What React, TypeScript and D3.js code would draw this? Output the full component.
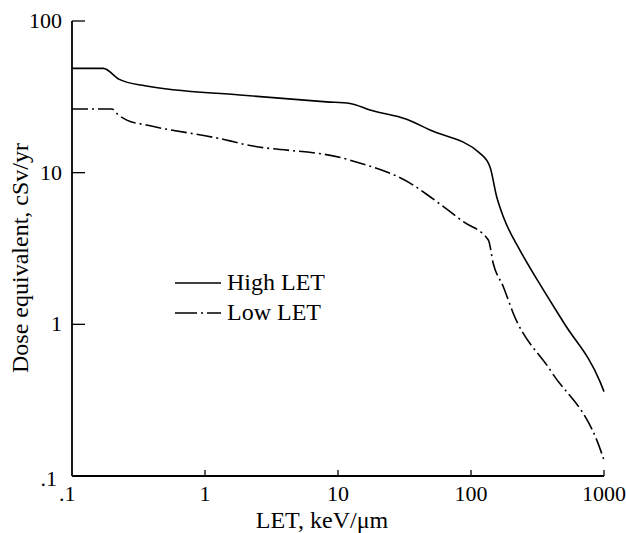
import * as d3 from "d3";

// LET (keV/um) and dose equivalent (cSv/yr)
const highLet = [0.1, 0.172, 0.227, 0.354, 1.83, 8.2, 12.3, 17.4, 32.8, 49.2, 117, 139, 156, 175, 233, 321, 500, 933, 1000];
const highDose = [48.7, 48.7, 41.2, 37.4, 32.5, 29.3, 28.6, 25.9, 22.5, 19.1, 13.4, 10.9, 6.94, 5.12, 3.09, 1.91, 1.02, 0.419, 0.36];

const lowLet = [0.1, 0.199, 0.223, 0.258, 0.364, 1.54, 1.83, 12.3, 36.8, 49.2, 87.5, 135, 147, 175, 208, 400, 961, 1000];
const lowDose = [26.3, 26.3, 24, 22.2, 20.6, 16.2, 15.6, 12.1, 8.28, 6.94, 4.75, 3.6, 2.52, 1.77, 1.18, 0.49, 0.141, 0.127];

const xTicks = [0.1, 1, 10, 100, 1000];
const xTickLabels = [".1", "1", "10", "100", "1000"];
const yTicks = [0.1, 1, 10, 100];
const yTickLabels = [".1", "1", "10", "100"];

const legendNames = ["High LET", "Low LET"];

const W = 626;
const H = 533;
const FONT = "'Liberation Serif', 'Times New Roman', serif";

export default function App() {
  const x = d3.scaleLog().domain([0.1, 1000]).range([72, 604]);
  const y = d3.scaleLog().domain([0.1, 100]).range([476, 21]);

  const line = d3
    .line<[number, number]>()
    .x((d) => x(d[0]))
    .y((d) => y(d[1]))
    .curve(d3.curveMonotoneX);

  const highPts = highLet.map((v, i) => [v, highDose[i]] as [number, number]);
  const lowPts = lowLet.map((v, i) => [v, lowDose[i]] as [number, number]);

  const dashes = ["none", "16,4,2,4"];

  return (
    <svg
      width={W}
      height={H}
      style={{ position: "absolute", left: 0, top: 0, background: "#fff" }}
      fontFamily={FONT}
    >
      {/* axes */}
      <line x1={x(0.1)} x2={x(0.1)} y1={y(100)} y2={y(0.1)} stroke="#000" strokeWidth={1.8} />
      <line x1={x(0.1)} x2={x(1000)} y1={y(0.1)} y2={y(0.1)} stroke="#000" strokeWidth={1.8} />

      {yTicks.map((t, i) => (
        <g key={"y" + t}>
          {t > 0.1 && (
            <line x1={x(0.1)} x2={x(0.1) + 13} y1={y(t)} y2={y(t)} stroke="#000" strokeWidth={1.3} />
          )}
          <text
            x={t === 0.1 ? 57 : 62}
            y={y(t) + (t === 0.1 ? 10 : 7)}
            textAnchor="end"
            fontSize={22}
          >
            {yTickLabels[i]}
          </text>
        </g>
      ))}

      {xTicks.map((t, i) => (
        <g key={"x" + t}>
          {t > 0.1 && (
            <line x1={x(t)} x2={x(t)} y1={y(0.1)} y2={y(0.1) - 6} stroke="#000" strokeWidth={1.3} />
          )}
          <text
            x={t === 0.1 ? 59 : x(t)}
            y={501}
            textAnchor={t === 0.1 ? "start" : "middle"}
            fontSize={22}
          >
            {xTickLabels[i]}
          </text>
        </g>
      ))}

      <text x={322} y={528} textAnchor="middle" fontSize={24}>
        LET, keV/μm
      </text>
      <text
        transform="translate(28,258) rotate(-90)"
        textAnchor="middle"
        fontSize={24}
      >
        Dose equivalent, cSv/yr
      </text>

      {/* curves */}
      <path d={line(highPts) ?? ""} fill="none" stroke="#000" strokeWidth={1.6} />
      <path
        d={line(lowPts) ?? ""}
        fill="none"
        stroke="#000"
        strokeWidth={1.6}
        strokeDasharray={dashes[1]}
      />

      {/* legend */}
      {legendNames.map((name, i) => (
        <g key={name} transform={`translate(175,${283 + i * 30})`}>
          <line
            x1={0}
            x2={46}
            y1={0}
            y2={0}
            stroke="#000"
            strokeWidth={1.4}
            strokeDasharray={dashes[i] === "none" ? undefined : "22,4,2,4"}
          />
          <text x={52} y={7} fontSize={24}>
            {name}
          </text>
        </g>
      ))}
    </svg>
  );
}
